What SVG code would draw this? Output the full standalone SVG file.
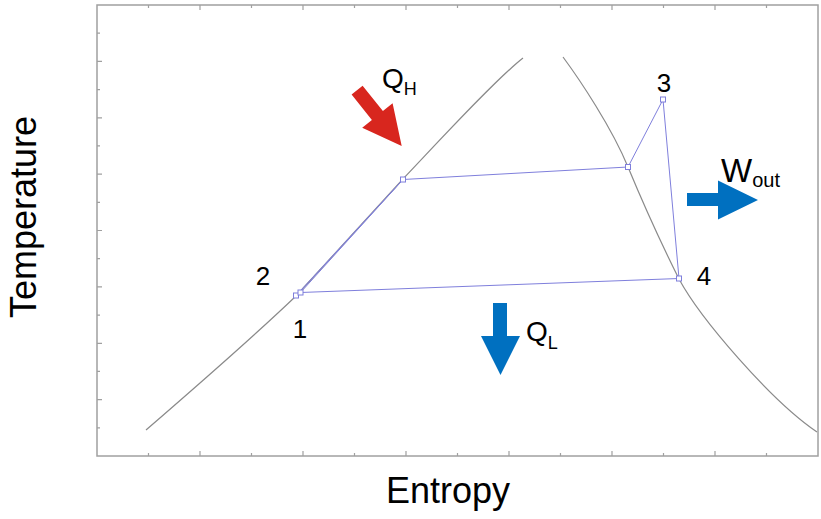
<svg xmlns="http://www.w3.org/2000/svg" width="821" height="519" viewBox="0 0 821 519">
<style>
.frame{fill:none;stroke:#a0a0a0;stroke-width:1.5}
.tick{stroke:#a0a0a0;stroke-width:1.2}
.dome{fill:none;stroke:#8a8a8a;stroke-width:1.2}
.cyc{fill:none;stroke:#7f7fdc;stroke-width:1}
.pt{fill:#ffffff;stroke:#7f7fdc;stroke-width:1}
.lbl{font-family:"Liberation Sans",Arial,sans-serif;fill:#000000}
</style>
<rect width="821" height="519" fill="#ffffff"/>
<g id="axes">
<rect class="frame" x="97" y="5" width="721" height="451"/>
<path class="tick" d="M148.5,456v-3M200,456v-5M251.5,456v-3M303,456v-5M354.5,456v-3M406,456v-5M457.5,456v-3M509,456v-5M560.5,456v-3M612,456v-5M663.5,456v-3M715,456v-5M766.5,456v-3
M148.5,5v3M200,5v5M251.5,5v3M303,5v5M354.5,5v3M406,5v5M457.5,5v3M509,5v5M560.5,5v3M612,5v5M663.5,5v3M715,5v5M766.5,5v3
M97,33.2h3M97,61.4h5M97,89.6h3M97,117.8h5M97,145.9h3M97,174.1h5M97,202.3h3M97,230.5h5M97,258.7h3M97,286.9h5M97,315.1h3M97,343.3h5M97,371.4h3M97,399.6h5M97,427.8h3"/>
<text class="lbl" x="448" y="503" font-size="36" text-anchor="middle">Entropy</text>
<text class="lbl" transform="translate(36,217) rotate(-90)" font-size="36" text-anchor="middle">Temperature</text>
</g>
<g id="dome">
<path class="dome" d="M146,430 C190,392 250,340 296,296 C332,257 367,218 403,179 C440,140 495,80 523,58"/>
<path class="dome" d="M563,57 C580,80 612,128 628,167 C645,208 662,245 679,279 C700,318 770,400 817,432"/>
</g>
<g id="connectors">
<line class="cyc" x1="296" y1="295.5" x2="403" y2="179.5"/>
<line class="cyc" x1="300.5" y1="292.5" x2="403" y2="179.5"/>
<line class="cyc" x1="403" y1="179.5" x2="628" y2="167"/>
<line class="cyc" x1="628" y1="167" x2="663" y2="99.5"/>
<line class="cyc" x1="663" y1="99.5" x2="679" y2="278.5"/>
<line class="cyc" x1="679" y1="278.5" x2="300.5" y2="292.5"/>
</g>
<g id="node-1">
<rect class="pt" x="293.5" y="293" width="5" height="5"/>
<text class="lbl" x="300" y="338" font-size="26" text-anchor="middle">1</text>
</g>
<g id="node-2">
<rect class="pt" x="298" y="290" width="5" height="5"/>
<text class="lbl" x="263" y="285" font-size="26" text-anchor="middle">2</text>
</g>
<g id="node-2s">
<rect class="pt" x="400.5" y="177" width="5" height="5"/>
</g>
<g id="node-3s">
<rect class="pt" x="625.5" y="164.5" width="5" height="5"/>
</g>
<g id="node-3">
<rect class="pt" x="660.5" y="97" width="5" height="5"/>
<text class="lbl" x="664" y="91.5" font-size="26" text-anchor="middle">3</text>
</g>
<g id="node-4">
<rect class="pt" x="676.5" y="276" width="5" height="5"/>
<text class="lbl" x="704" y="285" font-size="26" text-anchor="middle">4</text>
</g>
<g id="arrow-QH">
<polygon fill="#d8261e" points="362.6,85.7 382.9,111.1 392.6,103.3 401.7,146 362.2,127.7 371.9,119.9 351.6,94.5"/>
<text class="lbl" x="382" y="88" font-size="28">Q<tspan font-size="18" dy="7">H</tspan></text>
</g>
<g id="arrow-Wout">
<polygon fill="#0070c0" points="687,193 718,193 718,180.5 758,200 718,219.5 718,206 687,206"/>
<text class="lbl" x="721" y="181.5" font-size="33">W<tspan font-size="20" dy="5.5">out</tspan></text>
</g>
<g id="arrow-QL">
<polygon fill="#0070c0" points="493,303 507,303 507,336 520,336 500.5,375 481,336 493,336"/>
<text class="lbl" x="526" y="341" font-size="28">Q<tspan font-size="18" dy="8">L</tspan></text>
</g>
</svg>
